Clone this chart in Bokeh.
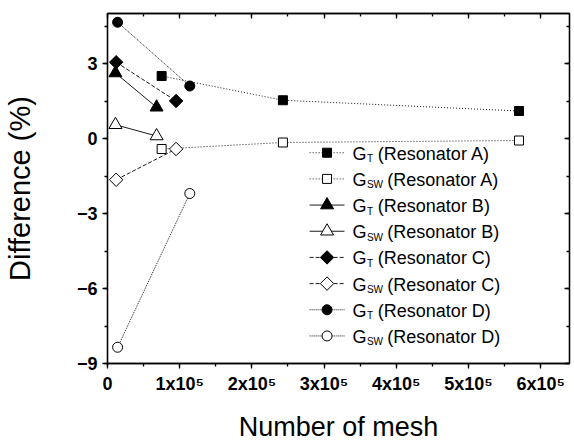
import math
from bokeh.plotting import figure
from bokeh.models import LinearAxis, SingleIntervalTicker, Range1d
from bokeh.core.properties import value
from bokeh.embed import file_html
from bokeh.resources import INLINE

# ---- data ----
x_A = [75000, 243000, 570000]
gt_A = [2.5, 1.53, 1.1]
gsw_A = [-0.42, -0.16, -0.08]
x_B = [11000, 68000]
gt_B = [2.62, 1.25]
gsw_B = [0.55, 0.1]
x_C = [12000, 95000]
gt_C = [3.05, 1.5]
gsw_C = [-1.65, -0.42]
x_D = [14000, 114000]
gt_D = [4.65, 2.1]
gsw_D = [-8.35, -2.2]

legend_labels = [("T", "(Resonator A)"), ("SW", "(Resonator A)"),
                 ("T", "(Resonator B)"), ("SW", "(Resonator B)"),
                 ("T", "(Resonator C)"), ("SW", "(Resonator C)"),
                 ("T", "(Resonator D)"), ("SW", "(Resonator D)")]
x_ticks = [0, 100000, 200000, 300000, 400000, 500000, 600000]
x_tick_labels = ["0", "1x10⁵", "2x10⁵", "3x10⁵", "4x10⁵", "5x10⁵", "6x10⁵"]

FONT = "Liberation Sans"
W, H = 574, 444
L, R, T, B = 105, 5, 13, 74
X0, X1, Y0, Y1 = 0, 640000, -9, 5

p = figure(width=W, height=H, output_backend="svg", toolbar_location=None,
           x_range=Range1d(X0, X1), y_range=Range1d(Y0, Y1),
           min_border_left=L, min_border_right=R, min_border_top=T, min_border_bottom=B)
p.xgrid.visible = False
p.ygrid.visible = False
p.outline_line_color = "black"
p.outline_line_width = 1.3
p.background_fill_color = "white"
p.border_fill_color = "white"

p.xaxis.ticker = SingleIntervalTicker(interval=100000, num_minor_ticks=2)
p.yaxis.ticker = SingleIntervalTicker(interval=3, num_minor_ticks=2)
p.xaxis.major_label_overrides = {t: s for t, s in zip(x_ticks, x_tick_labels)}

for ax in (p.xaxis[0], p.yaxis[0]):
    ax.axis_line_width = 1.3
    ax.major_tick_line_width = 1.3
    ax.minor_tick_line_width = 1.3
    ax.major_tick_out = 5
    ax.major_tick_in = 0
    ax.minor_tick_out = 3
    ax.minor_tick_in = 0
    ax.major_label_text_font = FONT
    ax.major_label_text_font_style = "bold"
    ax.major_label_text_font_size = "18px"
    ax.major_label_text_color = "black"
    ax.axis_label_text_font = FONT
    ax.axis_label_text_font_style = "normal"
    ax.axis_label_text_color = "black"

p.xaxis.axis_label = "Number of mesh"
p.xaxis.axis_label_text_font_size = "27px"
p.xaxis.axis_label_standoff = 15
p.xaxis.major_label_standoff = 5
p.yaxis.axis_label = "Difference (%)"
p.yaxis.axis_label_text_font_size = "29px"
p.yaxis.axis_label_standoff = 38
p.yaxis.major_label_standoff = 5

for loc, ticker in (("above", SingleIntervalTicker(interval=100000, num_minor_ticks=2)),
                    ("right", SingleIntervalTicker(interval=3, num_minor_ticks=2))):
    ax = LinearAxis(ticker=ticker)
    ax.major_label_text_font_size = "0px"
    ax.major_label_text_alpha = 0
    ax.axis_line_width = 1.3
    ax.major_tick_line_width = 1.3
    ax.minor_tick_line_width = 1.3
    ax.major_tick_out = 0
    ax.major_tick_in = 5
    ax.minor_tick_out = 0
    ax.minor_tick_in = 3
    ax.major_label_standoff = 0
    p.add_layout(ax, loc)

# (x, y, marker, size, fill, dash, angle)
series = [
    (x_A, gt_A, "square", 9, "black", "1 2", 0),
    (x_A, gsw_A, "square", 9, "white", "1 2", 0),
    (x_B, gt_B, "triangle", 13, "black", "solid", 0),
    (x_B, gsw_B, "triangle", 13, "white", "solid", 0),
    (x_C, gt_C, "square", 9.5, "black", "4 2", math.pi / 4),
    (x_C, gsw_C, "square", 9.5, "white", "4 2", math.pi / 4),
    (x_D, gt_D, "circle", 10, "black", "1 1", 0),
    (x_D, gsw_D, "circle", 10, "white", "1 1", 0),
]

for xs, ys, mk, sz, fill, dash, ang in series:
    p.line(xs, ys, line_color="black", line_width=0.9, line_dash=dash)
    p.scatter(xs, ys, marker=mk, size=sz, angle=ang, fill_color=fill,
              line_color="black", line_width=1)

# ---- legend (manual, to allow subscripts) ----
fw = W - L - R
fh = H - T - B
def dx(px):
    return X0 + (px - L) / fw * (X1 - X0)
def dy(py):
    return Y1 - (py - T) / fh * (Y1 - Y0)

row0, step = 155, 26.7
for i, ((xs, ys, mk, sz, fill, dash, ang), (sub, lab)) in enumerate(zip(series, legend_labels)):
    yy = dy(row0 + i * step)
    p.line([dx(308), dx(343)], [yy, yy], line_color="black", line_width=0.9, line_dash=dash)
    p.scatter([dx(325.5)], [yy], marker=mk, size=sz, angle=ang, fill_color=fill,
              line_color="black", line_width=1)
    p.text([dx(351)], [yy], text=["G"], text_font=value(FONT), text_font_size="18px",
           text_baseline="middle", text_align="left", text_color="black", y_offset=1)
    p.text([dx(365.5)], [yy], text=[sub], text_font=value(FONT), text_font_size="10px",
           text_baseline="middle", text_align="left", text_color="black", y_offset=6)
    p.text([dx(376.5 if sub == "T" else 386)], [yy], text=[lab], text_font=value(FONT),
           text_font_size="18px", text_baseline="middle", text_align="left",
           text_color="black", y_offset=1)

open("out.html", "w").write(file_html(p, INLINE))
